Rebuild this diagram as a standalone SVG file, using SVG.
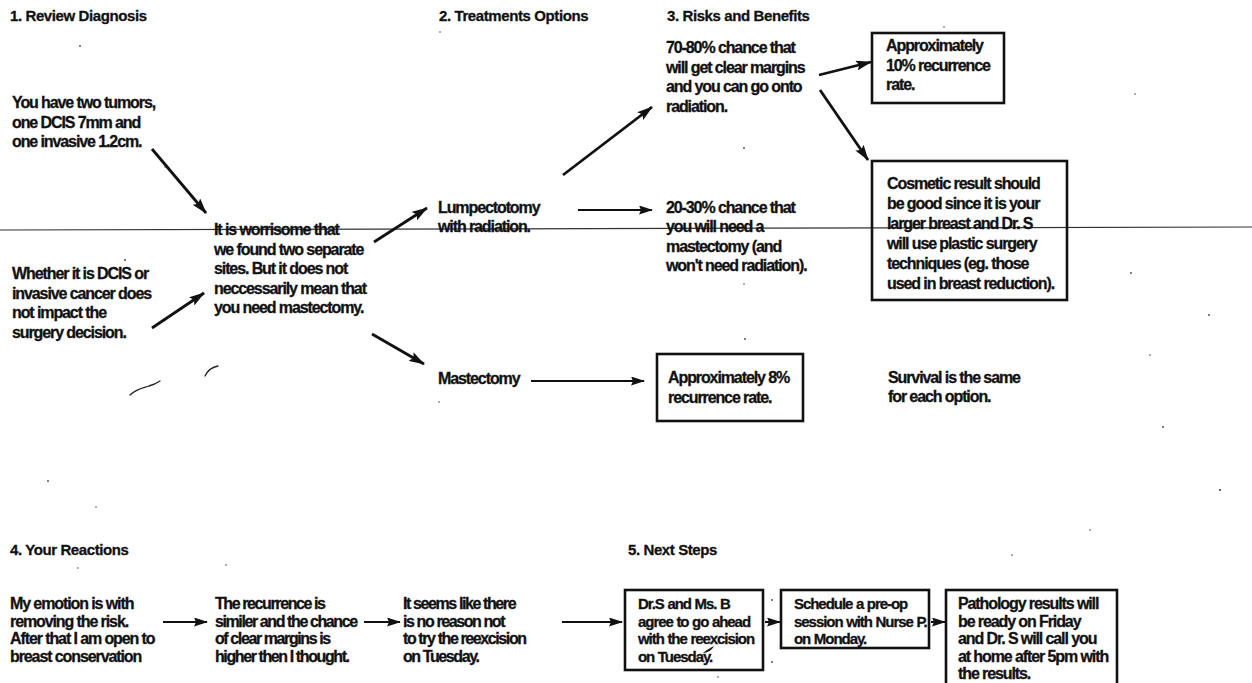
<svg xmlns="http://www.w3.org/2000/svg" width="1252" height="683" viewBox="0 0 1252 683">
  <defs>
    <marker id="ah" viewBox="0 0 16 10" refX="15" refY="5" markerWidth="16" markerHeight="10" markerUnits="userSpaceOnUse" orient="auto">
      <path d="M0,0 L16,5 L0,10 L3,5 z" fill="#111"/>
    </marker>
    <marker id="ahs" viewBox="0 0 14 9" refX="13" refY="4.5" markerWidth="14" markerHeight="9" markerUnits="userSpaceOnUse" orient="auto">
      <path d="M0,0 L14,4.5 L0,9 L2,4.5 z" fill="#111"/>
    </marker>
  </defs>
  <style>
    text { font-family: "Liberation Sans", Arial, Helvetica, sans-serif; fill: #111; stroke: #111; stroke-width: 0.3px; }
    .h { font-size: 15px; font-weight: bold; letter-spacing: -0.4px; }
    .t { font-size: 16px; font-weight: bold; letter-spacing: -1.1px; }
    .n { letter-spacing: -1.4px; }
    .sm { font-size: 15px; letter-spacing: -1.05px; word-spacing: 0.5px; }
    .box { fill: none; stroke: #111; stroke-width: 2.6; }
    .a { stroke: #111; stroke-width: 2.8; fill: none; marker-end: url(#ah); }
    .as { stroke: #111; stroke-width: 2; fill: none; marker-end: url(#ahs); }
    .rule { stroke: #333; stroke-width: 1.2; fill: none; }
    .mark { stroke: #222; stroke-width: 1.3; fill: none; stroke-linecap: round; }
    .speck { fill: #444; }
  </style>
  <rect width="1252" height="683" fill="#fff"/>

  <!-- fold line running across the page -->
  <path class="rule" d="M0,230 L1252,227"/>

  <!-- section headings -->
  <g id="headings">
    <text class="h" x="10" y="21">1. Review Diagnosis</text>
    <text class="h" x="439" y="21">2. Treatments Options</text>
    <text class="h" x="667" y="21">3. Risks and Benefits</text>
    <text class="h" x="10" y="555">4. Your Reactions</text>
    <text class="h" x="628" y="555">5. Next Steps</text>
  </g>

  <!-- 1. Review diagnosis -->
  <g id="tumors">
    <text class="t" x="12" y="108"><tspan x="12">You have two tumors,</tspan><tspan x="12" dy="19.5">one DCIS 7mm and</tspan><tspan x="12" dy="19.5">one invasive 1.2cm.</tspan></text>
  </g>
  <g id="dcis-or-invasive">
    <text class="t" x="12" y="279"><tspan x="12">Whether it is DCIS or</tspan><tspan x="12" dy="19.5">invasive cancer does</tspan><tspan x="12" dy="19.5">not impact the</tspan><tspan x="12" dy="19.5">surgery decision.</tspan></text>
  </g>
  <g id="worrisome">
    <text class="t" x="214" y="235"><tspan x="214">It is worrisome that</tspan><tspan x="214" dy="19.5">we found two separate</tspan><tspan x="214" dy="19.5">sites. But it does not</tspan><tspan x="214" dy="19.5">neccessarily mean that</tspan><tspan x="214" dy="19.5">you need mastectomy.</tspan></text>
  </g>

  <!-- 2. Treatment options -->
  <g id="lumpectomy">
    <text class="t" x="438" y="212.5"><tspan x="438">Lumpectotomy</tspan><tspan x="438" dy="19.5">with radiation.</tspan></text>
  </g>
  <g id="mastectomy">
    <text class="t" x="438" y="384">Mastectomy</text>
  </g>

  <!-- 3. Risks and benefits -->
  <g id="clear-margins">
    <text class="t" x="666" y="53"><tspan x="666">70-80% chance that</tspan><tspan x="666" dy="19.5">will get clear margins</tspan><tspan x="666" dy="19.5">and you can go onto</tspan><tspan x="666" dy="19.5">radiation.</tspan></text>
  </g>
  <g id="need-mastectomy">
    <text class="t" x="666" y="212.5"><tspan x="666">20-30% chance that</tspan><tspan x="666" dy="19.5">you will need a</tspan><tspan x="666" dy="19.5">mastectomy (and</tspan><tspan x="666" dy="19.5">won't need radiation).</tspan></text>
  </g>
  <g id="recurrence-10">
    <rect class="box" x="872" y="33" width="132" height="70"/>
    <text class="t" x="886" y="51"><tspan x="886">Approximately</tspan><tspan x="886" dy="19.5">10% recurrence</tspan><tspan x="886" dy="19.5">rate.</tspan></text>
  </g>
  <g id="cosmetic">
    <rect class="box" x="872" y="161" width="195" height="139"/>
    <text class="t" x="887" y="189"><tspan x="887">Cosmetic result should</tspan><tspan x="887" dy="20">be good since it is your</tspan><tspan x="887" dy="20">larger breast and Dr. S</tspan><tspan x="887" dy="20">will use plastic surgery</tspan><tspan x="887" dy="20">techniques (eg. those</tspan><tspan x="887" dy="20">used in breast reduction).</tspan></text>
  </g>
  <g id="recurrence-8">
    <rect class="box" x="657" y="354" width="146" height="67"/>
    <text class="t" x="668" y="383"><tspan x="668">Approximately 8%</tspan><tspan x="668" dy="20">recurrence rate.</tspan></text>
  </g>
  <g id="survival">
    <text class="t" x="888" y="383"><tspan x="888">Survival is the same</tspan><tspan x="888" dy="19">for each option.</tspan></text>
  </g>

  <!-- 4. Your reactions -->
  <g id="emotion">
    <text class="t" x="10" y="609"><tspan x="10">My emotion is with</tspan><tspan x="10" dy="17.5">removing the risk.</tspan><tspan x="10" dy="17.5">After that I am open to</tspan><tspan x="10" dy="17.5">breast conservation</tspan></text>
  </g>
  <g id="recurrence-similar">
    <text class="t n" x="215" y="609"><tspan x="215">The recurrence is</tspan><tspan x="215" dy="17.5">similer and the chance</tspan><tspan x="215" dy="17.5">of clear margins is</tspan><tspan x="215" dy="17.5">higher then I thought.</tspan></text>
  </g>
  <g id="no-reason">
    <text class="t n" x="403" y="609"><tspan x="403">It seems like there</tspan><tspan x="403" dy="17.5">is no reason not</tspan><tspan x="403" dy="17.5">to try the reexcision</tspan><tspan x="403" dy="17.5">on Tuesday.</tspan></text>
  </g>

  <!-- 5. Next steps -->
  <g id="agree">
    <rect class="box" x="625" y="590" width="138" height="80"/>
    <text class="t sm" x="638" y="609"><tspan x="638">Dr.S and Ms. B</tspan><tspan x="638" dy="17.5">agree to go ahead</tspan><tspan x="638" dy="17.5">with the reexcision</tspan><tspan x="638" dy="17.5">on Tuesday.</tspan></text>
  </g>
  <g id="pre-op">
    <rect class="box" x="781" y="590" width="148" height="58"/>
    <text class="t sm" x="794" y="609"><tspan x="794">Schedule a pre-op</tspan><tspan x="794" dy="17.5">session with Nurse P.</tspan><tspan x="794" dy="17.5">on Monday.</tspan></text>
  </g>
  <g id="pathology">
    <rect class="box" x="946" y="590" width="171" height="100"/>
    <text class="t" x="958" y="609"><tspan x="958">Pathology results will</tspan><tspan x="958" dy="17.5">be ready on Friday</tspan><tspan x="958" dy="17.5">and Dr. S will call you</tspan><tspan x="958" dy="17.5">at home after 5pm with</tspan><tspan x="958" dy="17.5">the results.</tspan></text>
  </g>

  <!-- connectors -->
  <g id="connectors">
    <path class="a" d="M152,149 L206,213"/>
    <path class="a" d="M152,328 L204,293"/>
    <path class="a" d="M374,242 L427,208"/>
    <path class="a" d="M372,334 L424,364"/>
    <path class="a" d="M563,175 L652,107"/>
    <path class="as" d="M578,210 L652,210"/>
    <path class="as" d="M531,381 L644,381"/>
    <path class="a" d="M819,75 L871,62"/>
    <path class="a" d="M820,90 L868,160"/>
    <path class="as" d="M163,622 L207,622"/>
    <path class="as" d="M364,622 L400,622"/>
    <path class="as" d="M562,622 L622,622"/>
    <path class="as" d="M765,622 L780,622"/>
    <path class="as" d="M931,622 L945,622"/>
  </g>

  <!-- pen marks and specks on the sheet -->
  <g id="marks">
    <path class="mark" d="M205,376 C208,370 212,367 218,366"/>
    <path class="mark" d="M130,395 C136,389 143,388 149,386 C153,385 157,383 160,381"/>
    <path d="M703,653 C706,650 710,648 714,646 C712,650 708,653 703,653 z" fill="#222"/>
    <circle class="speck" cx="80" cy="46" r="0.9"/>
    <circle class="speck" cx="440" cy="32" r="0.8"/>
    <circle class="speck" cx="125" cy="260" r="1"/>
    <circle class="speck" cx="165" cy="167" r="0.8"/>
    <circle class="speck" cx="439" cy="402" r="0.8"/>
    <circle class="speck" cx="744" cy="148" r="0.9"/>
    <circle class="speck" cx="744" cy="284" r="0.8"/>
    <circle class="speck" cx="745" cy="339" r="0.9"/>
    <circle class="speck" cx="944" cy="27" r="0.8"/>
    <circle class="speck" cx="1135" cy="94" r="0.8"/>
    <circle class="speck" cx="1131" cy="273" r="0.9"/>
    <circle class="speck" cx="1209" cy="315" r="0.9"/>
    <circle class="speck" cx="1150" cy="355" r="0.8"/>
    <circle class="speck" cx="1163" cy="427" r="0.9"/>
    <circle class="speck" cx="1220" cy="490" r="1.1"/>
    <circle class="speck" cx="1090" cy="530" r="0.8"/>
    <circle class="speck" cx="48" cy="481" r="0.9"/>
    <circle class="speck" cx="96" cy="507" r="0.8"/>
    <circle class="speck" cx="226" cy="565" r="0.8"/>
    <circle class="speck" cx="78" cy="568" r="0.8"/>
    <circle class="speck" cx="312" cy="636" r="0.9"/>
    <circle class="speck" cx="772" cy="600" r="0.9"/>
    <circle class="speck" cx="772" cy="662" r="0.9"/>
    <circle class="speck" cx="718" cy="677" r="0.8"/>
    <circle class="speck" cx="1012" cy="555" r="0.8"/>
  </g>
</svg>
